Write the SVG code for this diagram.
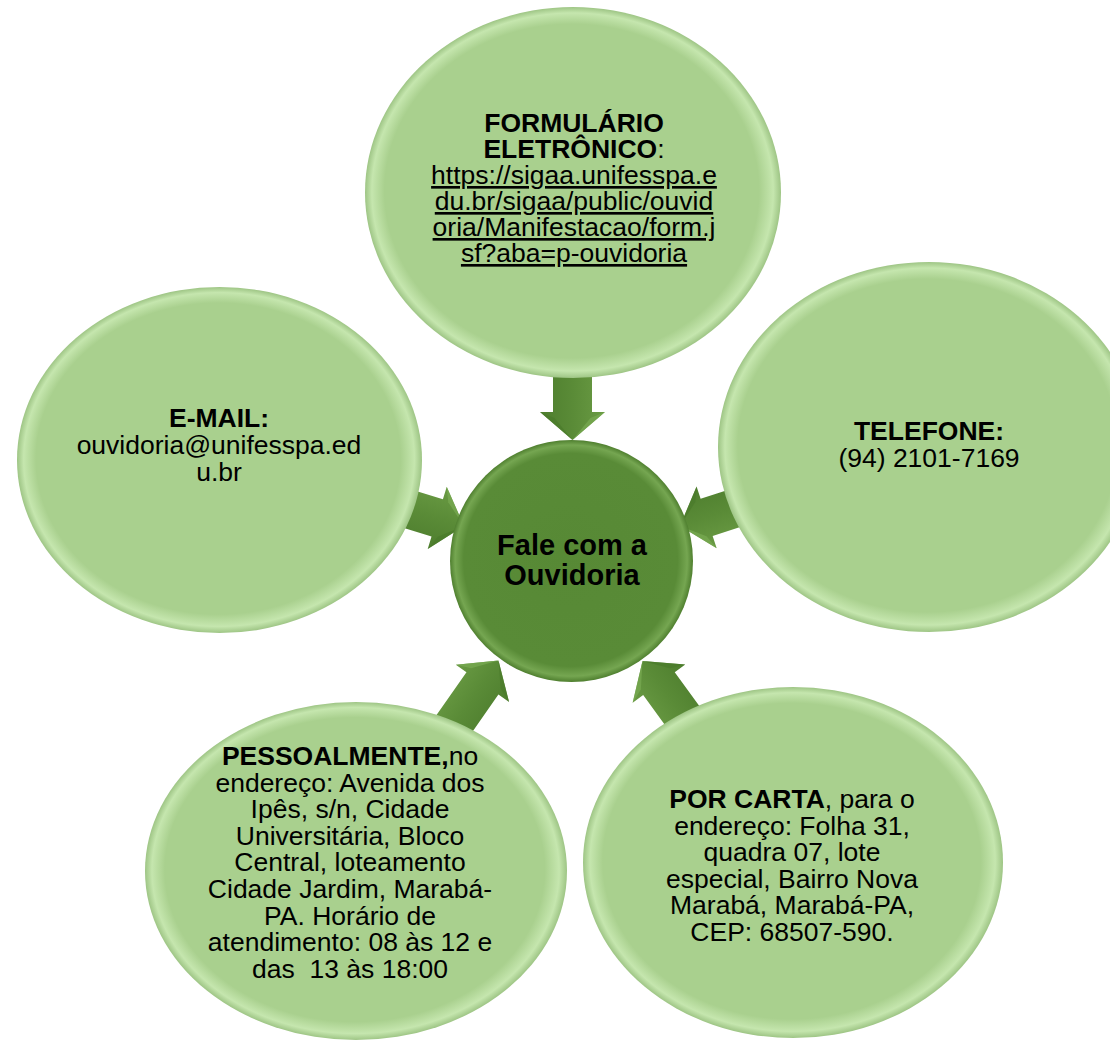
<svg xmlns="http://www.w3.org/2000/svg" width="1110" height="1040" viewBox="0 0 1110 1040">
  <defs>
    <radialGradient id="gOuter" cx="50%" cy="50%" r="50%" fx="47%" fy="46%">
      <stop offset="0" stop-color="#a9d08e"/>
      <stop offset="0.9" stop-color="#a9d08e"/>
      <stop offset="0.965" stop-color="#c5e6ae"/>
      <stop offset="1" stop-color="#9ec585"/>
    </radialGradient>
    <radialGradient id="gCenter" cx="50%" cy="50%" r="50%" fx="47%" fy="46%">
      <stop offset="0" stop-color="#578935"/>
      <stop offset="0.88" stop-color="#598b37"/>
      <stop offset="0.955" stop-color="#75a651"/>
      <stop offset="1" stop-color="#4f7f2f"/>
    </radialGradient>
    <linearGradient id="gArrow" x1="0" y1="0" x2="0" y2="1">
      <stop offset="0" stop-color="#6a9b44"/>
      <stop offset="0.5" stop-color="#5a8b37"/>
      <stop offset="1" stop-color="#4e7e2e"/>
    </linearGradient>
    <g id="arrow">
      <path d="M0,0 L-28,-32.5 L-28,-19.5 L-90,-19.5 L-90,19.5 L-28,19.5 L-28,32.5 Z" fill="url(#gArrow)"/>
      <path d="M0,0 L-28,-32.5 L-22,-18 Z" fill="#79ab52" opacity="0.7"/>
      <path d="M0,0 L-28,32.5 L-22,18 Z" fill="#4a7a2b" opacity="0.7"/>
    </g>
  </defs>
  <style>
    .outer { fill: url(#gOuter); }
    .center { fill: url(#gCenter); }
    text { font-family: "Liberation Sans", Arial, sans-serif; font-size: 26.5px; fill: #000; text-anchor: middle; }
    .b { font-weight: bold; }
    .u { text-decoration: underline; }
    .ct { font-size: 29px; font-weight: bold; }
  </style>
  <rect width="1110" height="1040" fill="#ffffff"/>

  <g id="connectors">
    <use href="#arrow" transform="translate(572.5,440) rotate(90)"/>
    <use href="#arrow" transform="translate(464,526) rotate(17)"/>
    <use href="#arrow" transform="translate(680,526) rotate(162)"/>
    <use href="#arrow" transform="translate(498.5,660.5) rotate(-55)"/>
    <use href="#arrow" transform="translate(642.5,661) rotate(-126)"/>
  </g>

  <g id="node-formulario">
    <ellipse class="outer" cx="573" cy="192.5" rx="208" ry="185.5"/>
    <text x="574" y="132" class="b">FORMULÁRIO</text>
    <text x="574" y="158"><tspan class="b">ELETRÔNICO</tspan>:</text>
    <text x="574" y="184" class="u">https://sigaa.unifesspa.e</text>
    <text x="574" y="210" class="u">du.br/sigaa/public/ouvid</text>
    <text x="574" y="236" class="u">oria/Manifestacao/form.j</text>
    <text x="574" y="262" class="u">sf?aba=p-ouvidoria</text>
  </g>

  <g id="node-email">
    <ellipse class="outer" cx="219.5" cy="460" rx="202.5" ry="173"/>
    <text x="219" y="427" class="b">E-MAIL:</text>
    <text x="219" y="454">ouvidoria@unifesspa.ed</text>
    <text x="219" y="481">u.br</text>
  </g>

  <g id="node-telefone">
    <ellipse class="outer" cx="929" cy="447" rx="211" ry="185"/>
    <text x="929" y="440" class="b">TELEFONE:</text>
    <text x="929" y="467">(94) 2101-7169</text>
  </g>

  <g id="node-pessoalmente">
    <ellipse class="outer" cx="356" cy="871" rx="211" ry="169"/>
    <text x="350" y="765"><tspan class="b">PESSOALMENTE,</tspan>no</text>
    <text x="350" y="791.6">endereço: Avenida dos</text>
    <text x="350" y="818.2">Ipês, s/n, Cidade</text>
    <text x="350" y="844.8">Universitária, Bloco</text>
    <text x="350" y="871.4">Central, loteamento</text>
    <text x="350" y="898">Cidade Jardim, Marabá-</text>
    <text x="350" y="924.6">PA. Horário de</text>
    <text x="350" y="951.2">atendimento: 08 às 12 e</text>
    <text x="350" y="977.8" xml:space="preserve">das  13 às 18:00</text>
  </g>

  <g id="node-carta">
    <ellipse class="outer" cx="793" cy="862.5" rx="210" ry="175.5"/>
    <text x="792" y="808"><tspan class="b">POR CARTA</tspan>, para o</text>
    <text x="792" y="834.6">endereço: Folha 31,</text>
    <text x="792" y="861.2">quadra 07, lote</text>
    <text x="792" y="887.8">especial, Bairro Nova</text>
    <text x="792" y="914.4">Marabá, Marabá-PA,</text>
    <text x="792" y="941">CEP: 68507-590.</text>
  </g>

  <g id="node-center">
    <ellipse class="center" cx="571.5" cy="561" rx="121.5" ry="121"/>
    <text x="572" y="555" class="ct">Fale com a</text>
    <text x="572" y="585" class="ct">Ouvidoria</text>
  </g>
</svg>
